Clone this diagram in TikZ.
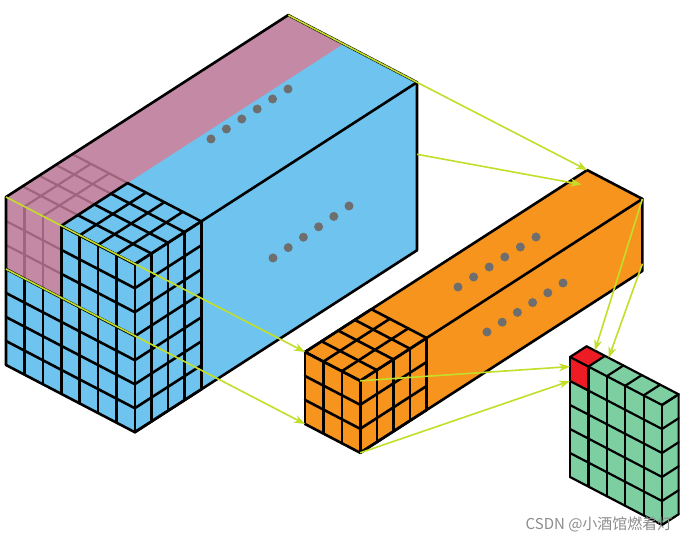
\documentclass[tikz,border=0pt]{standalone}
\usepackage{fontspec}
\newfontfamily\cjk{Noto Sans CJK SC}
\usetikzlibrary{arrows.meta}
\definecolor{bluef}{RGB}{110,196,238}
\definecolor{pinkf}{RGB}{196,138,165}
\definecolor{pinkl}{RGB}{160,100,125}
\definecolor{orangef}{RGB}{247,148,29}
\definecolor{greenf}{RGB}{125,206,160}
\definecolor{redf}{RGB}{237,28,36}
\definecolor{dotc}{RGB}{110,110,110}
\definecolor{arr}{RGB}{195,222,40}
\tikzset{
  iso/.style={x={(18.4pt,-9.6pt)},y={(0pt,-24pt)},z={(16.6pt,10.7pt)}},
  edge/.style={line width=2.6pt,line join=round,line cap=round},
  dotg/.style={fill=dotc,draw=none},
  link/.style={arr,line width=1.6pt,-{Stealth[length=11pt,width=8pt]}},
  plain/.style={arr,line width=1.6pt}
}
\newcommand{\dotrow}[4]{\foreach \i in {0,...,5}{\fill[dotg] ({#1+(#3-#1)*\i/5},{#2+(#4-#2)*\i/5}) circle (4.5pt);}}
\begin{document}
\begin{tikzpicture}[x=1pt,y=-1pt]
\useasboundingbox (0,0) rectangle (691,545);
% ---------- blue box
\begin{scope}[shift={(6,197)},iso]
  \coordinate (bA) at (0,0,0);
  \coordinate (bB) at (0,3,0);
  \coordinate (bC) at (0,0,17);
  \coordinate (bD) at (7,0,17);
  \coordinate (bE) at (7,3,17);
  \fill[bluef] (0,0,0)--(7,0,0)--(7,0,17)--(0,0,17)--cycle;
  \fill[bluef] (0,0,0)--(7,0,0)--(7,7,0)--(0,7,0)--cycle;
  \fill[bluef] (7,0,0)--(7,0,17)--(7,7,17)--(7,7,0)--cycle;
  \fill[pinkf] (0,0,0)--(3,0,0)--(3,0,17)--(0,0,17)--cycle;
  \fill[pinkf] (0,0,0)--(3,0,0)--(3,3,0)--(0,3,0)--cycle;
  \begin{scope}[pinkl,line width=2.2pt]
    \foreach \c in {1,2} {\draw (\c,0,0)--(\c,3,0); \draw (\c,0,0)--(\c,0,4);}
    \foreach \r in {1,2} \draw (0,\r,0)--(3,\r,0);
    \foreach \d in {1,2,3,4} \draw (0,0,\d)--(3,0,\d);
  \end{scope}
  \begin{scope}[edge]
    \foreach \c in {3,...,7} {\draw (\c,0,0)--(\c,7,0); \draw (\c,0,0)--(\c,0,4);}
    \foreach \c in {0,1,2} \draw (\c,3,0)--(\c,7,0);
    \foreach \r in {3,...,7} \draw (0,\r,0)--(7,\r,0);
    \foreach \r in {0,1,2} \draw (3,\r,0)--(7,\r,0);
    \foreach \d in {0,...,4} {\draw (3,0,\d)--(7,0,\d); \draw (7,0,\d)--(7,7,\d);}
    \foreach \r in {0,...,7} \draw (7,\r,0)--(7,\r,4);
    \draw (0,7,0)--(0,0,0)--(0,0,17)--(7,0,17)--(7,7,17)--(7,7,0);
    \draw (7,0,4)--(7,0,17);
  \end{scope}
\end{scope}
% ---------- orange box
\begin{scope}[shift={(305,352)},iso]
  \coordinate (oA) at (0,0,0);
  \coordinate (oB) at (0,3,0);
  \coordinate (oC) at (0,0,17);
  \coordinate (oF) at (3,0,0);
  \coordinate (oG) at (3,3,0);
  \coordinate (oH) at (3,0,17);
  \coordinate (oI) at (3,2.7,17);
  \coordinate (oJ) at (0.5,0,16.1);
  \fill[orangef] (0,0,0)--(3,0,0)--(3,0,17)--(0,0,17)--cycle;
  \fill[orangef] (0,0,0)--(3,0,0)--(3,3,0)--(0,3,0)--cycle;
  \fill[orangef] (3,0,0)--(3,0,17)--(3,3,17)--(3,3,0)--cycle;
  \begin{scope}[edge]
    \foreach \c in {0,...,3} {\draw (\c,0,0)--(\c,3,0); \draw (\c,0,0)--(\c,0,4);}
    \foreach \r in {0,...,3} {\draw (0,\r,0)--(3,\r,0); \draw (3,\r,0)--(3,\r,4);}
    \foreach \d in {0,...,4} {\draw (0,0,\d)--(3,0,\d); \draw (3,0,\d)--(3,3,\d);}
    \draw (0,0,0)--(0,0,17)--(3,0,17)--(3,3,17)--(3,3,0);
    \draw (3,0,4)--(3,0,17);
  \end{scope}
\end{scope}
% ---------- green map
\begin{scope}[shift={(570,357)},iso]
  \coordinate (gA) at (0,0.4,0);
  \coordinate (gB) at (0,1,0);
  \coordinate (gC) at (0.45,0,1);
  \coordinate (gD) at (1.2,0,1);
  \fill[greenf] (0,0,0)--(5,0,0)--(5,0,1)--(0,0,1)--cycle;
  \fill[greenf] (0,0,0)--(5,0,0)--(5,5,0)--(0,5,0)--cycle;
  \fill[greenf] (5,0,0)--(5,0,1)--(5,5,1)--(5,5,0)--cycle;
  \fill[redf] (0,0,0)--(1,0,0)--(1,1,0)--(0,1,0)--cycle;
  \fill[redf] (0,0,0)--(1,0,0)--(1,0,1)--(0,0,1)--cycle;
  \begin{scope}[edge,line width=2.2pt]
    \foreach \c in {0,...,5} {\draw (\c,0,0)--(\c,5,0); \draw (\c,0,0)--(\c,0,1);}
    \foreach \r in {0,...,5} {\draw (0,\r,0)--(5,\r,0); \draw (5,\r,0)--(5,\r,1);}
    \draw (0,0,1)--(5,0,1)--(5,5,1);
  \end{scope}
\end{scope}
% ---------- dots
\dotrow{211}{139}{288}{89}
\dotrow{273}{258}{349}{206}
\dotrow{458}{287}{536}{237}
\dotrow{487}{332}{563}{283}
% ---------- connectors
\draw[link] (bA) -- (oA);
\draw[link] (bB) -- (oB);
\draw[plain] (bC) -- (bD);
\draw[link] (bD) -- (oC);
\draw[link] (bE) -- (oJ);
\draw[link] (oG) -- (gB);
\draw[link] (oF) -- (gA);
\draw[link] (oH) -- (gC);
\draw[link] (oI) -- (gD);
% ---------- watermark
\node[text=black!45,font=\cjk\fontsize{15}{15}\selectfont,anchor=east] (wm) at (676,524) {CSDN @小酒馆燃着灯};
\end{tikzpicture}
\end{document}
